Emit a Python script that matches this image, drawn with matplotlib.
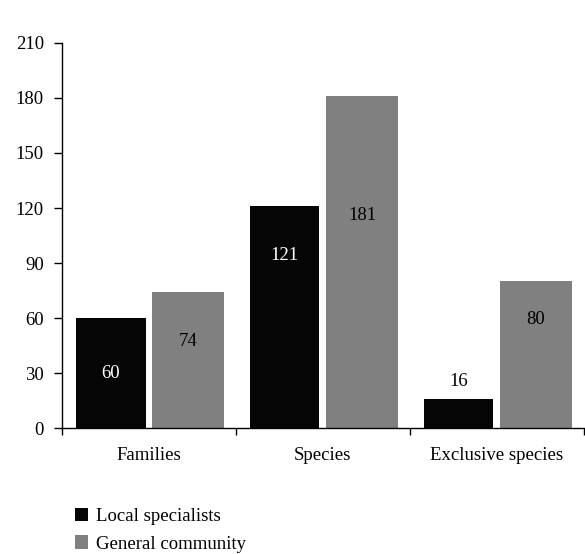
import matplotlib
matplotlib.use("Agg")
import matplotlib.pyplot as plt
import numpy as np

plt.rcParams["font.family"] = ["Liberation Serif", "DejaVu Serif"]

categories = ["Families", "Species", "Exclusive species"]
local_specialists = [60, 121, 16]
general_community = [74, 181, 80]
series_names = ["Local specialists", "General community"]

# where each value label sits (data units)
local_label_y = [30, 94, 25.5]
general_label_y = [47, 116, 59]

FS = 13.5

fig = plt.figure(figsize=(5.85, 5.54), dpi=100)
ax = fig.add_axes([0.106, 0.2274, 0.892, 0.695])

x = np.arange(len(categories))
w = 0.40
b1 = ax.bar(x - 0.22, local_specialists, w, color="#050505", label=series_names[0])
b2 = ax.bar(x + 0.225, general_community, w + 0.01, color="#808080", label=series_names[1])

for xi, v, ly in zip(x, local_specialists, local_label_y):
    col = "white" if ly < v else "black"
    ax.text(xi - 0.22, ly, str(v), ha="center", va="center", fontsize=FS, color=col)
for xi, v, ly in zip(x, general_community, general_label_y):
    ax.text(xi + 0.225, ly, str(v), ha="center", va="center", fontsize=FS, color="black")

ax.set_xlim(-0.5, 2.5)
ax.set_ylim(0, 210)
ax.set_yticks(range(0, 211, 30))
ax.set_xticks(x)
ax.set_xticklabels(categories, fontsize=FS)
ax.set_xticks(np.arange(-0.5, 2.6, 1), minor=True)
ax.tick_params(axis="x", which="major", length=0, pad=14)
ax.tick_params(axis="x", which="minor", length=5, direction="out", width=1)
ax.tick_params(axis="y", length=6, width=1, labelsize=FS, pad=7)

for s in ["top", "right"]:
    ax.spines[s].set_visible(False)
for s in ["left", "bottom"]:
    ax.spines[s].set_linewidth(1)

fig.legend(handles=[b1, b2], labels=series_names, loc="upper left",
           bbox_to_anchor=(0.128, 0.083), frameon=False, fontsize=FS,
           handlelength=0.7, handleheight=0.7, handletextpad=0.45,
           labelspacing=0.55, borderaxespad=0, borderpad=0)

fig.savefig("out.png", dpi=100)
